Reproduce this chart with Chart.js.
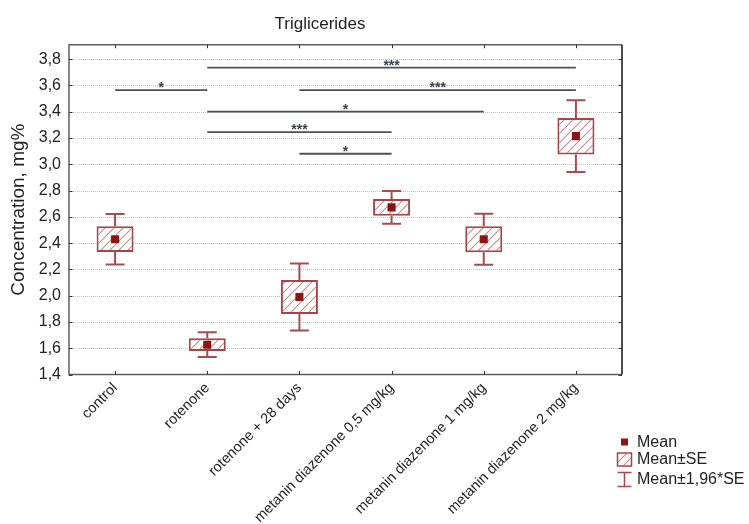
<!DOCTYPE html>
<html>
<head>
<meta charset="utf-8">
<title>Triglicerides</title>
<script src="https://cdn.jsdelivr.net/npm/chart.js@4.4.1/dist/chart.umd.min.js"></script>
<style>
  html, body { margin: 0; padding: 0; background: #ffffff; }
  #wrap { width: 749px; height: 524px; }
</style>
</head>
<body>
<div id="wrap"><canvas id="chart" width="749" height="524"></canvas></div>
<script>
// Groups and their statistics (mean and standard error, mg%)
const categories = [
  'control',
  'rotenone',
  'rotenone + 28 days',
  'metanin diazenone 0,5 mg/kg',
  'metanin diazenone 1 mg/kg',
  'metanin diazenone 2 mg/kg'
];
const meanValues = [2.43, 1.627, 1.99, 2.672, 2.43, 3.214];
const seValues   = [0.098, 0.048, 0.13, 0.064, 0.099, 0.139];

// Y axis tick values
const yTickValues = [1.4, 1.6, 1.8, 2.0, 2.2, 2.4, 2.6, 2.8, 3.0, 3.2, 3.4, 3.6, 3.8];

// Pairwise comparison brackets: group indices, bracket level, significance mark
const sigFrom  = [1, 0, 2, 1, 1, 2];
const sigTo    = [5, 1, 5, 4, 3, 3];
const sigLevel = [3.735, 3.565, 3.565, 3.40, 3.245, 3.08];
const sigMarks = ['***', '*', '***', '*', '***', '*'];

const FONT = '"Liberation Sans", Arial, Helvetica, sans-serif';
const MEAN_COLOR = '#8b1414';
const BOX_COLOR = '#a6444a';
const WHISKER_COLOR = '#a94a4e';
const HATCH_COLOR = '#c98a8c';

// Diagonal hatch fill for the SE boxes
function makeHatch() {
  const size = 9;
  const c = document.createElement('canvas');
  c.width = size; c.height = size;
  const g = c.getContext('2d');
  g.fillStyle = '#ffffff';
  g.fillRect(0, 0, size, size);
  g.strokeStyle = HATCH_COLOR;
  g.lineWidth = 1.1;
  g.beginPath();
  g.moveTo(0, size); g.lineTo(size, 0);
  g.moveTo(-2, 2); g.lineTo(2, -2);
  g.moveTo(size - 2, size + 2); g.lineTo(size + 2, size - 2);
  g.stroke();
  return g.createPattern(c, 'repeat');
}
const hatch = makeHatch();

const seBoxes = meanValues.map((m, i) => [m - seValues[i], m + seValues[i]]);

// Grid lines and 1.96*SE whiskers under the datasets
const underlayPlugin = {
  id: 'underlay',
  beforeDatasetsDraw(chart) {
    const { ctx, chartArea: { left, right }, scales: { x, y } } = chart;
    ctx.save();
    ctx.strokeStyle = '#c2c2c2';
    ctx.lineWidth = 1;
    ctx.setLineDash([1, 1]);
    y.ticks.forEach(t => {
      if (t.value <= y.min + 1e-9) return;
      const py = Math.round(y.getPixelForValue(t.value)) + 0.5;
      ctx.beginPath();
      ctx.moveTo(left, py);
      ctx.lineTo(right, py);
      ctx.stroke();
    });
    ctx.setLineDash([]);

    ctx.strokeStyle = WHISKER_COLOR;
    ctx.lineWidth = 2;
    meanValues.forEach((m, i) => {
      const px = x.getPixelForValue(i);
      const se = seValues[i];
      const hi = y.getPixelForValue(m + 1.96 * se);
      const lo = y.getPixelForValue(m - 1.96 * se);
      const bHi = y.getPixelForValue(m + se);
      const bLo = y.getPixelForValue(m - se);
      ctx.beginPath();
      ctx.moveTo(px, bHi); ctx.lineTo(px, hi);
      ctx.moveTo(px - 9.5, hi); ctx.lineTo(px + 9.5, hi);
      ctx.moveTo(px, bLo); ctx.lineTo(px, lo);
      ctx.moveTo(px - 9.5, lo); ctx.lineTo(px + 9.5, lo);
      ctx.stroke();
    });
    ctx.restore();
  }
};

// Frame, inward tick marks, significance marks and legend
const overlayPlugin = {
  id: 'overlay',
  afterDatasetsDraw(chart) {
    const { ctx, chartArea: { left, right, top, bottom }, scales: { x, y } } = chart;
    ctx.save();

    ctx.font = 'bold 14px ' + FONT;
    ctx.fillStyle = '#3c434c';
    ctx.textAlign = 'center';
    ctx.textBaseline = 'alphabetic';
    sigMarks.forEach((s, i) => {
      const px = x.getPixelForValue((sigFrom[i] + sigTo[i]) / 2);
      const py = y.getPixelForValue(sigLevel[i]);
      ctx.fillText(s, px, py + 2);
    });

    ctx.lineWidth = 1.5;
    ctx.strokeStyle = '#5e5e5e';
    ctx.beginPath();
    ctx.moveTo(right, top); ctx.lineTo(left, top);
    ctx.lineTo(left, bottom); ctx.lineTo(right, bottom);
    ctx.stroke();
    ctx.strokeStyle = '#111';
    ctx.beginPath();
    ctx.moveTo(right, top); ctx.lineTo(right, bottom);
    ctx.stroke();

    ctx.lineWidth = 1;
    ctx.strokeStyle = '#333';
    ctx.beginPath();
    y.ticks.forEach(t => {
      const py = Math.round(y.getPixelForValue(t.value)) + 0.5;
      ctx.moveTo(left, py); ctx.lineTo(left + 3.5, py);
      ctx.moveTo(right - 3.5, py); ctx.lineTo(right, py);
    });
    categories.forEach((c, i) => {
      const px = Math.round(x.getPixelForValue(i)) + 0.5;
      ctx.moveTo(px, bottom); ctx.lineTo(px, bottom - 3.5);
      ctx.moveTo(px, top); ctx.lineTo(px, top + 3.5);
    });
    ctx.stroke();
    ctx.restore();
  },
  afterDraw(chart) {
    const { ctx, chartArea: { right, bottom } } = chart;
    const cx = right + 2.5;
    const tx = right + 15;
    ctx.save();
    ctx.font = '16px ' + FONT;
    ctx.fillStyle = '#222';
    ctx.textAlign = 'left';
    ctx.textBaseline = 'middle';

    // Mean
    let cy = bottom + 67.5;
    ctx.fillStyle = MEAN_COLOR;
    ctx.fillRect(cx - 3.5, cy - 3.5, 7, 7);
    ctx.fillStyle = '#222';
    ctx.fillText('Mean', tx, cy + 0.5);

    // Mean±SE
    cy = bottom + 85;
    ctx.fillStyle = hatch;
    ctx.fillRect(cx - 7, cy - 6.5, 14, 13);
    ctx.strokeStyle = BOX_COLOR;
    ctx.lineWidth = 1.5;
    ctx.strokeRect(cx - 7, cy - 6.5, 14, 13);
    ctx.fillStyle = '#222';
    ctx.fillText('Mean±SE', tx, cy + 0.5);

    // Mean±1,96*SE
    cy = bottom + 105;
    ctx.strokeStyle = WHISKER_COLOR;
    ctx.lineWidth = 1.5;
    ctx.beginPath();
    ctx.moveTo(cx - 7, cy - 7); ctx.lineTo(cx + 7, cy - 7);
    ctx.moveTo(cx, cy - 7); ctx.lineTo(cx, cy + 7);
    ctx.moveTo(cx - 7, cy + 7); ctx.lineTo(cx + 7, cy + 7);
    ctx.stroke();
    ctx.fillText('Mean±1,96*SE', tx, cy + 0.5);
    ctx.restore();
  }
};

// Comparison brackets as two-point lines between group centres
const sigDatasets = sigFrom.map((f, i) => ({
  type: 'line',
  xAxisID: 'x',
  yAxisID: 'y',
  data: [{ x: categories[f], y: sigLevel[i] }, { x: categories[sigTo[i]], y: sigLevel[i] }],
  borderColor: '#505050',
  borderWidth: 1.8,
  pointRadius: 0,
  fill: false,
  order: 1
}));

new Chart(document.getElementById('chart'), {
  type: 'bar',
  data: {
    labels: categories,
    datasets: [
      {
        type: 'line',
        label: 'Mean',
        data: meanValues,
        xAxisID: 'x',
        yAxisID: 'y',
        showLine: false,
        pointStyle: 'rect',
        pointRadius: 5.7,
        pointBackgroundColor: MEAN_COLOR,
        pointBorderColor: MEAN_COLOR,
        pointBorderWidth: 0,
        order: 0
      },
      {
        type: 'bar',
        label: 'Mean±SE',
        data: seBoxes,
        xAxisID: 'x',
        yAxisID: 'y',
        backgroundColor: hatch,
        borderColor: BOX_COLOR,
        borderWidth: 2,
        borderSkipped: false,
        grouped: false,
        categoryPercentage: 1,
        barPercentage: 0.5,
        maxBarThickness: 37,
        order: 2
      },
      ...sigDatasets
    ]
  },
  options: {
    responsive: false,
    animation: false,
    layout: { padding: { top: 1.3, left: 18, right: 127, bottom: 0 } },
    plugins: {
      legend: { display: false },
      tooltip: { enabled: false },
      title: {
        display: true,
        text: 'Triglicerides',
        color: '#222',
        font: { family: FONT, size: 17, weight: 'normal' },
        padding: { top: 13, bottom: 10 }
      }
    },
    scales: {
      x: {
        type: 'category',
        offset: true,
        grid: { display: false, drawTicks: false },
        border: { display: false },
        ticks: {
          autoSkip: false,
          minRotation: 45,
          maxRotation: 45,
          color: '#222',
          padding: 5,
          font: { family: FONT, size: 14.5 }
        },
        afterFit(scale) { scale.height = 149.5; }
      },
      y: {
        type: 'linear',
        min: 1.4,
        max: 3.91,
        grid: { display: false, drawTicks: false },
        border: { display: false },
        afterBuildTicks(scale) {
          scale.ticks = yTickValues.map(v => ({ value: v }));
        },
        afterFit(scale) { scale.width = 51; },
        ticks: {
          color: '#222',
          padding: 8,
          font: { family: FONT, size: 16 },
          callback: v => Number(v).toFixed(1).replace('.', ',')
        },
        title: {
          display: true,
          text: 'Concentration, mg%',
          color: '#222',
          font: { family: FONT, size: 19 },
          padding: { top: -11, bottom: 0 }
        }
      }
    }
  },
  plugins: [underlayPlugin, overlayPlugin]
});
</script>
</body>
</html>
